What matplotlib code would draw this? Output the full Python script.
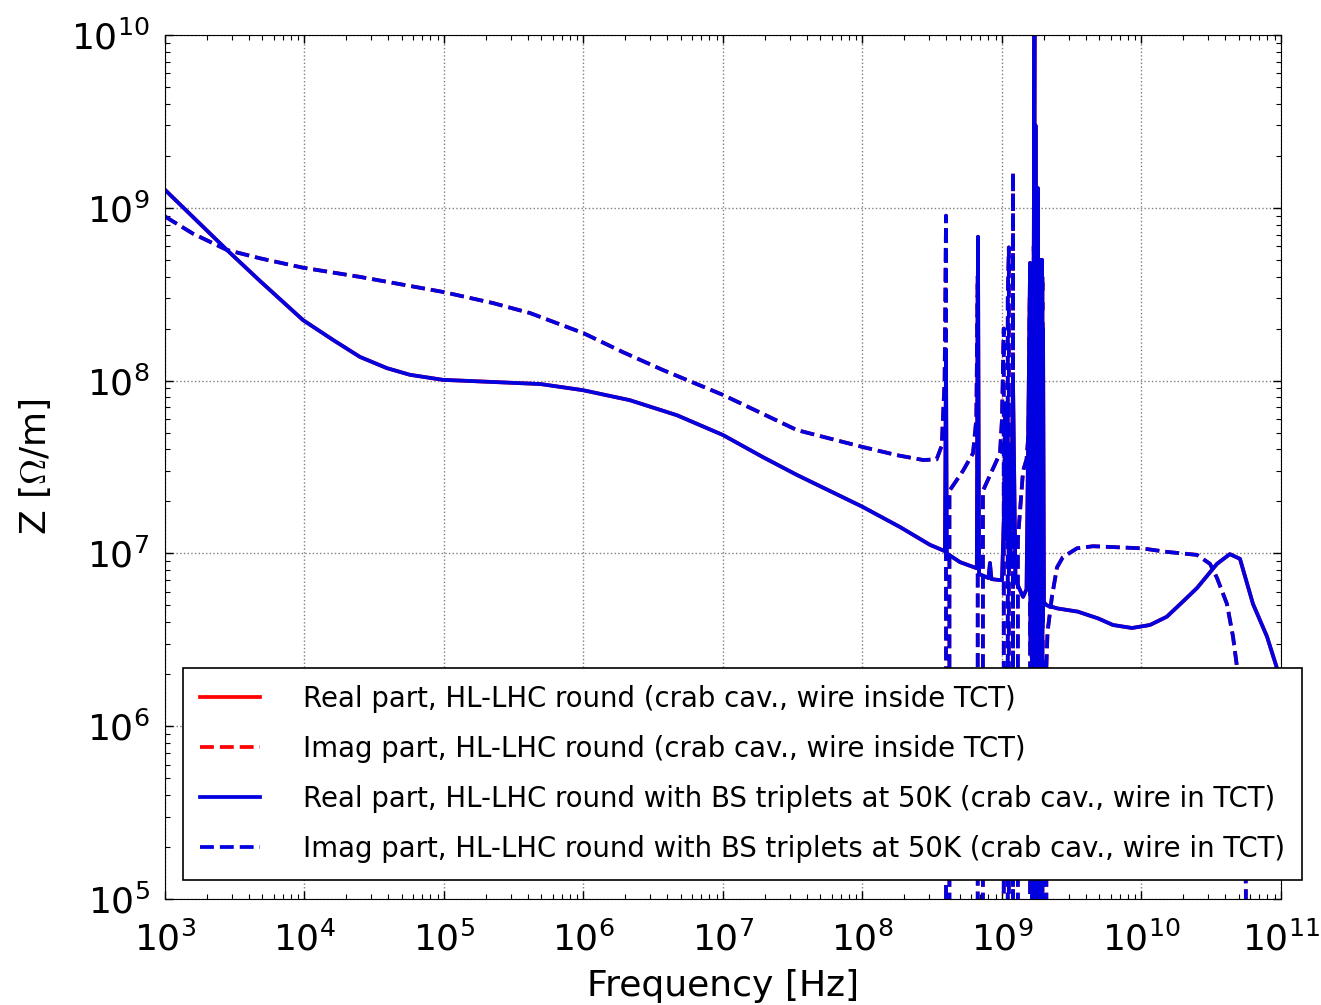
#!/usr/bin/env python3
"""Longitudinal impedance of HL-LHC round optics, with and without BS triplets at 50K."""

import matplotlib
matplotlib.use("Agg")
import matplotlib.pyplot as plt

# ---------------------------------------------------------------------------
# Data (negative imaginary values fall below the log axis)
# ---------------------------------------------------------------------------
freq_real = [
    1e3, 2.78e3, 4.8e3, 9.75e3, 1.6e4, 2.5e4, 3.9e4, 5.7e4, 9.8e4, 4.9e5,
    9.9e5, 2.15e6, 4.68e6, 1e7, 1.94e7, 3.4e7, 1e8, 1.86e8, 3.05e8, 3.9e8,
    3.97e8, 4.02e8, 5e8, 6.6e8, 6.73e8, 6.85e8, 8.0e8, 8.2e8, 8.4e8, 9.68e8,
    1.0e9, 1.03e9, 1.06e9, 1.075e9, 1.1e9, 1.12e9, 1.15e9, 1.2e9, 1.25e9,
    1.416e9, 1.5e9, 1.59e9, 1.605e9, 1.62e9, 1.635e9, 1.65e9, 1.67e9, 1.69e9,
    1.71e9, 1.725e9, 1.74e9, 1.755e9, 1.78e9, 1.8e9, 1.81e9, 1.83e9, 1.85e9,
    1.87e9, 1.89e9, 1.91e9, 1.936e9, 1.955e9, 1.97e9, 2.0e9, 2.1e9, 2.5e9,
    3.5e9, 4.9e9, 6.25e9, 8.55e9, 1.15e10, 1.52e10, 2.0e10, 2.5e10, 3.48e10,
    4.3e10, 5.08e10, 6.3e10, 7.94e10, 9.3e10, 1e11,
]
z_real = [
    1.27e9, 5.7e8, 3.77e8, 2.24e8, 1.72e8, 1.37e8, 1.18e8, 1.08e8, 1.01e8,
    9.55e7, 8.8e7, 7.7e7, 6.3e7, 4.84e7, 3.6e7, 2.84e7, 1.86e7, 1.42e7,
    1.12e7, 1.03e7, 1.5e8, 1.0e7, 8.9e6, 8.2e6, 6.8e8, 7.6e6, 7.2e6, 8.8e6,
    7.1e6, 7.0e6, 7.0e6, 1.5e7, 7.4e7, 1.2e7, 4.0e7, 8.0e6, 9.0e6, 1.0e8,
    7.0e6, 5.6e6, 6.2e6, 4.8e8, 3.0e6, 2.0e8, 2.5e6, 3.0e8, 3.0e6, 6.0e8,
    1.5e10, 4.0e6, 3.0e9, 2.5e6, 8.0e8, 3.0e6, 1.3e9, 2.5e6, 4.0e8, 5.0e8,
    2.5e6, 3.0e8, 5.0e8, 4.0e6, 2.0e8, 5.2e6, 5.0e6, 4.8e6, 4.6e6, 4.2e6,
    3.85e6, 3.7e6, 3.85e6, 4.3e6, 5.3e6, 6.3e6, 8.7e6, 9.9e6, 9.3e6, 5.1e6,
    3.3e6, 2.2e6, 1.8e6,
]

freq_imag = [
    1e3, 1.58e3, 2.78e3, 4.8e3, 9.75e3, 2.5e4, 9.8e4, 2.24e5, 4.13e5, 1.0e6,
    1.92e6, 3.72e6, 1e7, 3.39e7, 1e8, 1.77e8, 2.72e8, 3.4e8, 3.7e8, 3.88e8,
    3.97e8, 4.0e8, 4.1e8, 4.2e8, 5.25e8, 6.2e8, 6.55e8, 6.7e8, 6.76e8, 6.85e8,
    7.3e8, 9.68e8, 1.0e9, 1.03e9, 1.05e9, 1.07e9, 1.1e9, 1.12e9, 1.14e9,
    1.17e9, 1.2e9, 1.22e9, 1.27e9, 1.3e9, 1.416e9, 1.5e9, 1.55e9, 1.59e9,
    1.61e9, 1.64e9, 1.66e9, 1.69e9, 1.72e9, 1.75e9, 1.77e9, 1.79e9, 1.82e9,
    1.85e9, 1.88e9, 1.91e9, 1.95e9, 1.98e9, 2.08e9, 2.12e9, 2.28e9, 2.48e9,
    2.73e9, 3.45e9, 4.5e9, 1e10, 1.52e10, 2.5e10, 3.1e10, 3.48e10, 4.1e10,
    4.53e10, 4.84e10, 5.3e10, 5.6e10, 5.8e10,
]
z_imag = [
    8.9e8, 7.1e8, 5.7e8, 5.1e8, 4.5e8, 3.98e8, 3.26e8, 2.81e8, 2.46e8, 1.88e8,
    1.46e8, 1.15e8, 8.26e7, 5.17e7, 4.13e7, 3.7e7, 3.47e7, 3.5e7, 4.2e7,
    1.0e8, 9.0e8, -5e7, -5e7, 2.3e7, 3.0e7, 3.8e7, 6.0e7, 4.0e8, -5e7, -5e7,
    2.3e7, 3.8e7, 6.0e7, 2.0e8, -5e7, -5e7, 3.0e8, 5.9e8, -5e7, -5e7, 1.6e9,
    -5e7, -5e7, 1.2e7, 3.0e7, 3.5e7, 5.0e7, 4.5e8, -5e7, 4.5e8, -5e7, 6.0e8,
    -5e7, 5.0e8, -5e7, 1.3e9, -5e7, 4.0e8, 4.5e8, -5e7, 4.0e8, -5e7, 2.2e6,
    3.5e6, 5.6e6, 8.3e6, 9.5e6, 1.07e7, 1.1e7, 1.07e7, 1.02e7, 9.8e6, 8.7e6,
    7.2e6, 5.1e6, 3.3e6, 2.2e6, 6e5, 1.2e5, -1e6,
]

x_decades = [1e3, 1e4, 1e5, 1e6, 1e7, 1e8, 1e9, 1e10, 1e11]
y_decades = [1e5, 1e6, 1e7, 1e8, 1e9, 1e10]

LABELS = [
    "Real part, HL-LHC round (crab cav., wire inside TCT)",
    "Imag part, HL-LHC round (crab cav., wire inside TCT)",
    "Real part, HL-LHC round with BS triplets at 50K (crab cav., wire in TCT)",
    "Imag part, HL-LHC round with BS triplets at 50K (crab cav., wire in TCT)",
]
RED = "#ff0000"
BLUE = "#0000e0"

plt.rcParams["mathtext.fontset"] = "cm"
plt.rcParams["font.family"] = "DejaVu Sans"

fig = plt.figure(figsize=(13.21, 10.05), dpi=100)
ax = fig.add_axes([0.1249, 0.1055, 0.8448, 0.8597])
ax.set_xscale("log")
ax.set_yscale("log", nonpositive="clip")

lw = 2.7
ax.plot(freq_real, z_real, color=RED, lw=lw, ls="-", label=LABELS[0])
ax.plot(freq_imag, z_imag, color=RED, lw=lw, ls="--", label=LABELS[1])
ax.plot(freq_real, z_real, color=BLUE, lw=lw, ls="-", label=LABELS[2])
ax.plot(freq_imag, z_imag, color=BLUE, lw=lw, ls="--", label=LABELS[3])

ax.set_xticks(x_decades)
ax.set_yticks(y_decades)
ax.set_xlim(1e3, 1e11)
ax.set_ylim(1e5, 1e10)

ax.tick_params(which="both", direction="in", top=True, right=True, labelsize=26)
ax.tick_params(which="major", length=6, width=1)
ax.tick_params(which="minor", length=3.5, width=0.8)
ax.tick_params(axis="x", pad=16)
ax.tick_params(axis="y", pad=11)
ax.grid(True, which="major", color="gray", ls=":", lw=1)

ax.set_xlabel("Frequency [Hz]", fontsize=26, labelpad=8)
ax.set_ylabel(r"Z [$\Omega$/m]", fontsize=26, labelpad=13)

leg = ax.legend(loc="lower left", bbox_to_anchor=(0.016, 0.022), fontsize=19.8,
                handlelength=2.2, handletextpad=1.56, labelspacing=0.8,
                borderpad=0.62, fancybox=False, framealpha=1, borderaxespad=0)
leg.get_frame().set_edgecolor("black")
leg.get_frame().set_linewidth(1.2)

fig.savefig("out.png", dpi=100)
